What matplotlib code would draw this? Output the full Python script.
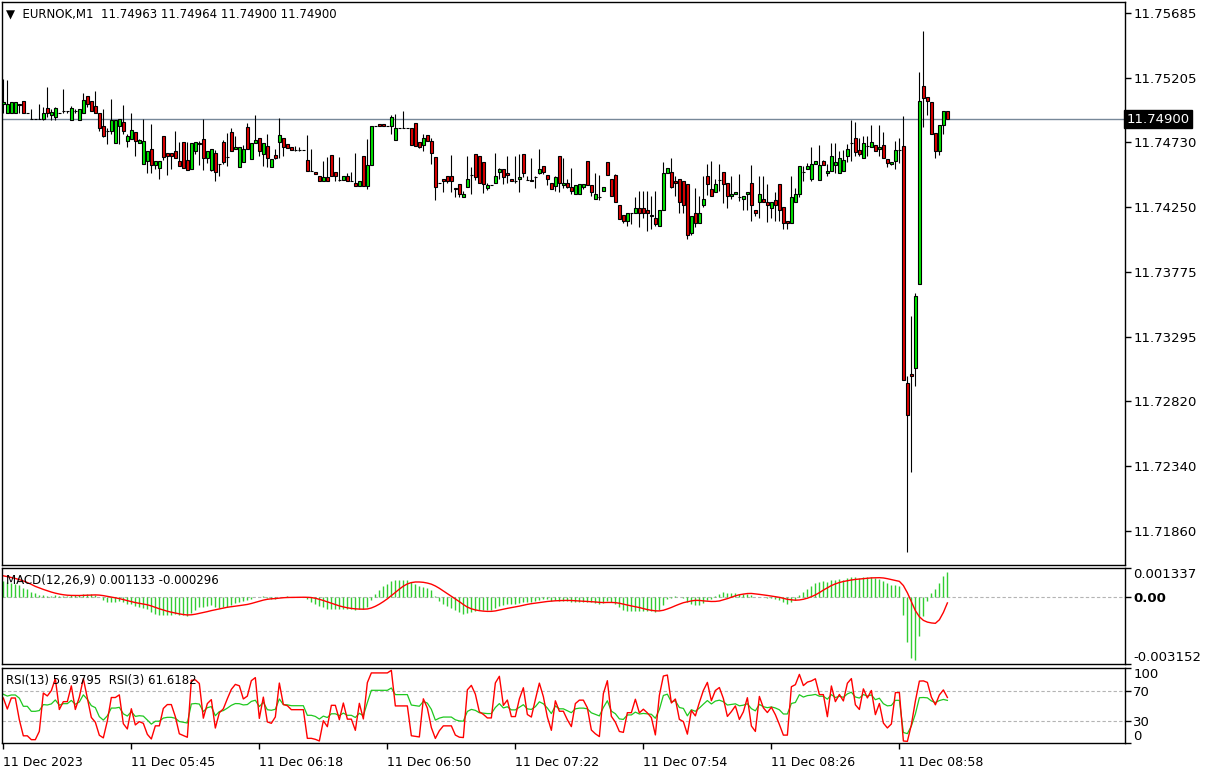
import numpy as np
import matplotlib
matplotlib.use("Agg")
import matplotlib.pyplot as plt
import matplotlib.transforms as mtransforms

# EURNOK M1 candles, prices as offsets from 11.74900 in points (0.00001)
base = 11.749
open_pts = [115, 46, 46, 46, 115, 137, 46, 0, 0, 0,
            0, 86, 34, 17, 49, 61, 61, -3, 61, -3,
            46, 174, 137, 96, 49, -47, -84, -84, -172, -47,
            -17, -157, -143, -94, -172, -327, -305, -216, -334, -356,
            -121, -246, -246, -231, -305, -165, -297, -364, -231, -184,
            -143, -283, -371, -246, -327, -165, -275, -91, -216, -351,
            -314, -59, -290, -172, -135, -253, -199, -351, -265, -165,
            -140, -179, -206, -223, -223, -223, -302, -381, -386, -420,
            -459, -427, -265, -386, -445, -445, -420, -455, -472, -489,
            -273, -489, -334, -47, -32, -32, -47, -47, -150, -61,
            -61, -61, -61, -24, -165, -187, -113, -157, -280, -467,
            -437, -420, -420, -504, -481, -570, -496, -408, -253, -268,
            -312, -504, -482, -467, -386, -364, -393, -437, -452, -437,
            -253, -445, -445, -423, -393, -341, -408, -467, -489, -268,
            -482, -467, -496, -548, -548, -496, -305, -482, -585, -577,
            -526, -312, -437, -408, -636, -710, -754, -695, -695, -658,
            -658, -666, -717, -725, -791, -666, -393, -386, -452, -437,
            -452, -474, -836, -695, -769, -636, -415, -518, -533, -445,
            -386, -467, -563, -548, -577, -585, -548, -467, -666, -614,
            -585, -607, -658, -592, -474, -644, -747, -769, -607, -555,
            -386, -364, -437, -327, -445, -305, -393, -378, -334, -393,
            -378, -268, -172, -135, -223, -283, -194, -201, -187, -216,
            -187, -290, -327, -305, -223, -194, -1948, -1880, -1837, -1218,
            248, 162, 130, -98, -234, -39, 63]
high_pts = [300, 287, 128, 128, 115, 137, 46, 78, 0, 115,
            91, 238, 78, 91, 49, 221, 61, 96, 78, 78,
            196, 174, 137, 206, 49, 78, -64, 147, -3, 5,
            108, -106, 49, -94, -143, 0, -231, -32, -305, -305,
            -121, -246, -246, -89, -165, -165, -165, -172, -165, -157,
            5, -231, -216, -224, -327, -150, -98, -62, -121, -202,
            -190, -24, -172, 30, -135, -172, -106, -295, -221, 7,
            -140, -179, -206, -199, -206, -223, -118, -221, -386, -420,
            -310, -280, -265, -386, -280, -420, -393, -386, -250, -452,
            -273, -147, -47, -47, -32, -32, -47, 30, 37, -61,
            59, -61, -61, -24, -165, -106, -113, -135, -280, -467,
            -437, -420, -265, -504, -481, -526, -273, -349, -253, -268,
            -312, -467, -482, -246, -356, -364, -268, -437, -268, -253,
            -253, -415, -282, -415, -216, -341, -408, -467, -415, -268,
            -282, -437, -356, -482, -474, -474, -305, -482, -393, -408,
            -496, -312, -437, -400, -636, -710, -695, -695, -570, -526,
            -526, -526, -563, -526, -673, -312, -356, -282, -415, -437,
            -452, -474, -717, -504, -563, -415, -330, -309, -442, -327,
            -386, -467, -418, -533, -405, -563, -533, -334, -666, -415,
            -415, -474, -614, -533, -474, -644, -747, -415, -504, -341,
            -341, -319, -201, -305, -187, -297, -327, -172, -172, -231,
            -223, -179, -2, -17, -135, -120, -120, -39, -187, -39,
            -91, -290, -312, -157, -135, 27, -1894, -1452, -1280, 346,
            651, 162, 130, -98, -44, 64, 64]
low_pts = [46, 46, 46, 46, 46, 46, 46, 0, 0, 0,
           -3, 17, -3, -3, 49, 46, 46, -3, 46, -3,
           46, 91, 64, 46, -86, -130, -180, -108, -172, -180,
           -108, -204, -143, -268, -172, -327, -393, -393, -364, -438,
           -297, -408, -364, -283, -342, -356, -371, -364, -253, -334,
           -371, -320, -379, -452, -415, -327, -342, -231, -216, -351,
           -314, -216, -290, -172, -270, -344, -351, -351, -295, -285,
           -270, -209, -223, -231, -231, -223, -381, -381, -403, -459,
           -459, -455, -415, -455, -455, -445, -455, -455, -489, -489,
           -489, -513, -334, -47, -47, -47, -47, -108, -150, -61,
           -61, -61, -187, -196, -209, -231, -157, -329, -599, -467,
           -536, -467, -536, -577, -570, -570, -496, -548, -445, -467,
           -543, -523, -482, -467, -437, -474, -467, -452, -467, -536,
           -423, -445, -452, -504, -400, -400, -482, -518, -526, -536,
           -504, -504, -548, -548, -548, -518, -482, -563, -585, -592,
           -526, -408, -563, -614, -739, -769, -784, -776, -695, -798,
           -725, -828, -806, -784, -791, -666, -393, -504, -563, -688,
           -688, -880, -857, -798, -769, -646, -560, -563, -533, -528,
           -617, -658, -585, -548, -604, -673, -666, -754, -717, -725,
           -607, -761, -725, -747, -747, -813, -806, -769, -607, -570,
           -459, -364, -459, -327, -445, -334, -422, -378, -393, -393,
           -378, -312, -309, -268, -268, -283, -268, -201, -231, -268,
           -283, -349, -334, -364, -319, -1924, -3196, -2607, -1966, -1218,
           -57, 35, -105, -282, -260, -108, 0]
close_pts = [128, 115, 128, 128, 108, 46, 46, 0, 0, 5,
             49, 46, 54, 86, 49, 61, 61, 86, 61, 78,
             145, 115, 64, 46, -62, -121, -84, -3, -3, 5,
             -84, -121, -76, -157, -150, -157, -231, -334, -305, -305,
             -275, -268, -268, -283, -342, -356, -371, -172, -165, -172,
             -283, -231, -216, -386, -327, -312, -275, -231, -202, -204,
             -221, -216, -172, -155, -233, -172, -285, -295, -282, -113,
             -204, -209, -223, -223, -223, -223, -381, -381, -403, -459,
             -427, -455, -415, -415, -445, -420, -455, -455, -489, -452,
             -489, -334, -47, -47, -47, -47, -47, 15, -61, -61,
             -61, -61, -187, -196, -204, -135, -157, -246, -496, -467,
             -452, -452, -452, -518, -548, -553, -437, -408, -425, -467,
             -474, -482, -482, -415, -364, -423, -408, -452, -452, -423,
             -393, -445, -452, -423, -364, -386, -437, -518, -423, -467,
             -467, -496, -526, -482, -474, -474, -482, -533, -555, -577,
             -496, -408, -563, -614, -739, -754, -695, -695, -658, -695,
             -688, -695, -703, -776, -673, -393, -356, -496, -467, -614,
             -636, -857, -717, -769, -688, -585, -474, -563, -474, -445,
             -481, -563, -548, -533, -577, -563, -533, -636, -688, -555,
             -607, -629, -614, -636, -673, -769, -769, -577, -555, -341,
             -386, -341, -327, -305, -334, -334, -378, -268, -312, -283,
             -297, -216, -172, -238, -253, -172, -194, -165, -231, -201,
             -283, -319, -312, -223, -223, -1924, -2182, -1898, -1304, 133,
             160, 133, -105, -234, -44, 64, 0]

tick_bars = [0, 32, 64, 96, 128, 160, 192, 224]
tick_labels = ['11 Dec 2023', '11 Dec 05:45', '11 Dec 06:18', '11 Dec 06:50',
               '11 Dec 07:22', '11 Dec 07:54', '11 Dec 08:26', '11 Dec 08:58']
price_ticks = [11.75685, 11.75205, 11.74730, 11.74250, 11.73775,
               11.73295, 11.72820, 11.72340, 11.71860]
last_price = 11.74900
macd_ticks = [0.001337, 0.0, -0.003152]
rsi_ticks = [100, 70, 30, 0]
rsi_levels = [70, 30]

# indicator state at the left edge
macd_start = 0.0008
signal_start = 0.0010
rsi13_start = 65
rsi3_start = 60
avg_move = 0.0003

o = base + np.array(open_pts) * 1e-5
h = base + np.array(high_pts) * 1e-5
l = base + np.array(low_pts) * 1e-5
c = base + np.array(close_pts) * 1e-5
x = np.arange(len(c))


def ema(v, n, start):
    k = 2.0 / (n + 1)
    out = np.empty(len(v))
    prev = start
    for i, val in enumerate(v):
        prev = prev + k * (val - prev)
        out[i] = prev
    return out


def rsi(v, n, start):
    ag = avg_move * start / 100.0
    al = avg_move * (1 - start / 100.0)
    out = np.empty(len(v))
    for i in range(len(v)):
        d = v[i] - v[i - 1] if i > 0 else 0.0
        ag = (ag * (n - 1) + max(d, 0)) / n
        al = (al * (n - 1) + max(-d, 0)) / n
        out[i] = 100 * ag / (ag + al)
    return out


macd = ema(c, 12, c[0]) - ema(c, 26, c[0] - macd_start)
signal = np.convolve(np.concatenate([np.full(8, signal_start), macd]),
                     np.ones(9) / 9, mode='valid')
rsi13 = rsi(c, 13, rsi13_start)
rsi3 = rsi(c, 3, rsi3_start)

W, H = 1207, 771
fig = plt.figure(figsize=(W / 100, H / 100), dpi=100)
left, width = 2 / W, 1123 / W
ax = fig.add_axes([left, 1 - 565 / H, width, 563 / H])
ax2 = fig.add_axes([left, 1 - 664 / H, width, 96 / H])
ax3 = fig.add_axes([left, 1 - 743 / H, width, 75 / H])

xlim = (-0.33, 280.4)
for a in (ax, ax2, ax3):
    a.set_xlim(*xlim)
    a.yaxis.tick_right()
    a.tick_params(axis='y', direction='out', length=4, width=1, pad=2,
                  labelsize=9.5, colors='black')
    for s in a.spines.values():
        s.set_color('black')
        s.set_linewidth(1)
    a.set_xticks([])

# candles
up = c > o
body_col = np.where(up, '#00e600', '#e00000')
ax.vlines(x, l, h, color='black', lw=0.8, zorder=2)
ax.bar(x, np.abs(c - o), bottom=np.minimum(o, c), width=0.6,
       color=body_col, edgecolor='black', linewidth=0.8, zorder=3)
ax.axhline(last_price, color='#778899', lw=1, zorder=1)
ax.set_ylim(11.71610, 11.75766)
ax.set_yticks(price_ticks)
ax.set_yticklabels(['%.5f' % p for p in price_ticks])
ax.text(1.0015, last_price, '11.74900',
        transform=mtransforms.blended_transform_factory(ax.transAxes, ax.transData),
        ha='left', va='center', color='white', fontsize=9.5, clip_on=False,
        bbox=dict(boxstyle='square,pad=0.2', fc='black', ec='black'), zorder=5)
ax.text(0.004, 0.991, '\u25BC  EURNOK,M1  11.74963 11.74964 11.74900 11.74900',
        transform=ax.transAxes, ha='left', va='top', fontsize=8.5)

# MACD
ax2.axhline(0, color='#b4b4b4', lw=0.8, ls=(0, (3, 2)))
ax2.vlines(x, 0, macd, color='#32cd32', lw=1)
ax2.plot(x, signal, color='red', lw=1)
ax2.set_ylim(macd_ticks[2], macd_ticks[0])
ax2.set_yticks(macd_ticks)
ax2.set_yticklabels(['0.001337', '0.00', '-0.003152'])
lab = ax2.get_yticklabels()
lab[0].set_va('top')
lab[1].set_fontweight('bold')
lab[2].set_va('bottom')
ax2.text(0.004, 0.94, 'MACD(12,26,9) 0.001133 -0.000296',
         transform=ax2.transAxes, ha='left', va='top', fontsize=8.5)

# RSI
for lv in rsi_levels:
    ax3.axhline(lv, color='#b4b4b4', lw=0.8, ls=(0, (3, 2)))
ax3.plot(x, rsi13, color='#1fc81f', lw=0.9)
ax3.plot(x, rsi3, color='red', lw=1)
ax3.set_ylim(0, 100)
ax3.set_yticks(rsi_ticks)
ax3.set_yticklabels([str(t) for t in rsi_ticks])
lab = ax3.get_yticklabels()
lab[0].set_va('top')
lab[3].set_va('bottom')
ax3.text(0.004, 0.92, 'RSI(13) 56.9795  RSI(3) 61.6182',
         transform=ax3.transAxes, ha='left', va='top', fontsize=8.5)
ax3.set_xticks(tick_bars)
ax3.set_xticklabels(tick_labels, ha='left', fontsize=9)
ax3.tick_params(axis='x', direction='out', length=4, width=1, pad=5)

fig.savefig('out.png', dpi=100, facecolor='white')
